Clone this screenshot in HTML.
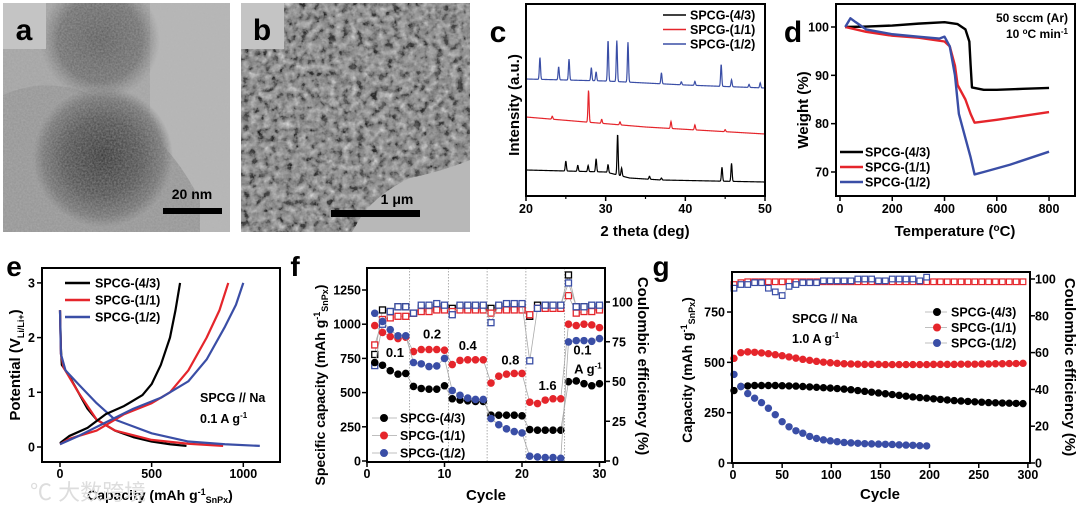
<!DOCTYPE html>
<html><head><meta charset="utf-8">
<style>
html,body{margin:0;padding:0;background:#fff;}
svg{display:block;font-family:"Liberation Sans","Noto Sans CJK SC",sans-serif;font-weight:bold;}
</style></head>
<body>
<svg id="fig" width="1080" height="506" viewBox="0 0 1080 506" xmlns="http://www.w3.org/2000/svg">
<defs>
<filter id="noiseA" x="0" y="0" width="100%" height="100%">
<feTurbulence type="fractalNoise" baseFrequency="0.55" numOctaves="2" seed="3" result="n"/>
<feColorMatrix in="n" type="matrix" values="0 0 0 0 0.5  0 0 0 0 0.5  0 0 0 0 0.5  0 0 0 0.55 0"/>
<feComposite in2="SourceGraphic" operator="in"/>
</filter>
<filter id="noiseB" x="0" y="0" width="100%" height="100%">
<feTurbulence type="fractalNoise" baseFrequency="0.14" numOctaves="3" seed="8" result="n"/>
<feColorMatrix in="n" type="matrix" values="1.5 0 0 0 -0.45  1.5 0 0 0 -0.45  1.5 0 0 0 -0.45  0 0 0 1 0"/>
</filter>
<radialGradient id="blobA" cx="0.5" cy="0.5" r="0.5">
<stop offset="0" stop-color="#2a2a2a"/><stop offset="0.55" stop-color="#4a4a4a"/><stop offset="0.85" stop-color="#6e6e6e"/><stop offset="1" stop-color="#6e6e6e" stop-opacity="0"/>
</radialGradient>
<radialGradient id="blobA2" cx="0.5" cy="0.5" r="0.5">
<stop offset="0" stop-color="#555"/><stop offset="0.7" stop-color="#6a6a6a"/><stop offset="1" stop-color="#777" stop-opacity="0"/>
</radialGradient>
<clipPath id="clipB"><rect x="241" y="3" width="229" height="229"/></clipPath>
<clipPath id="clipA"><rect x="3" y="3" width="227" height="229"/></clipPath>
</defs>

<g clip-path="url(#clipA)">
<rect x="3" y="3" width="227" height="229" fill="#a2a2a2"/>
<rect x="150" y="3" width="80" height="229" fill="#b4b4b4"/>
<path d="M3 95 Q60 70 120 110 Q170 140 200 200 L200 232 L3 232 Z" fill="#939393"/>
<circle cx="100" cy="40" r="60" fill="url(#blobA2)"/>
<circle cx="103" cy="157" r="70" fill="url(#blobA)"/>
<rect x="3" y="3" width="227" height="229" fill="#888" filter="url(#noiseA)"/>
</g>
<rect x="3" y="3" width="43" height="46" fill="#c4c4c4"/>
<text x="24" y="40" font-size="30" text-anchor="middle">a</text>
<text x="192" y="199" font-size="14" text-anchor="middle">20 nm</text>
<rect x="163" y="208" width="59" height="6" fill="#000"/>

<g clip-path="url(#clipB)">
<rect x="241" y="3" width="229" height="229" fill="#8a8a8a"/>
<rect x="241" y="3" width="229" height="229" fill="#888" filter="url(#noiseB)" opacity="0.95"/>
<path d="M470 160 Q440 172 410 178 Q380 192 362 215 L352 232 L470 232 Z" fill="#b8b8b8"/>
</g>
<rect x="241" y="3" width="43" height="46" fill="#c4c4c4"/>
<text x="262" y="40" font-size="30" text-anchor="middle">b</text>
<text x="397" y="204" font-size="14" text-anchor="middle">1 μm</text>
<rect x="331" y="210" width="89" height="7" fill="#000"/>

<g id="plots"></g>

<text x="30" y="500" font-size="22" fill="#ddd" font-weight="normal">℃ 大数跨境</text>
</svg>

<script>
const cSeriesNames = ["SPCG-(4/3)", "SPCG-(1/1)", "SPCG-(1/2)"];
const cBaseBlack = [[20, 26], [30, 24], [33, 18], [37, 16], [50, 14]];
const cBaseRed = [[20, 79], [35, 69], [50, 62]];
const cBaseBlue = [[20, 117], [30, 115], [40, 111], [50, 108]];
const cPeaksBlack = [[25, 10], [26.5, 6], [27.8, 6], [28.8, 13], [30.3, 8], [31.5, 41], [32, 8], [35.5, 3], [37, 2], [44.6, 14], [45.8, 18]];
const cPeaksRed = [[23.3, 3], [27.85, 32], [29.5, 4], [31.8, 3], [38.2, 7], [41.2, 5], [45, 2]];
const cPeaksBlue = [[21.75, 22], [24.1, 13], [25.4, 21], [28.2, 13], [28.8, 9], [30.3, 41], [31.4, 41], [32.8, 40], [37, 11], [39.5, 3], [41.2, 4], [44.5, 22], [45.8, 7], [48, 3], [49.4, 5]];
const cXTicks = [20, 30, 40, 50];

const dBlackT = [20, 100, 200, 300, 400, 450, 480, 495, 500, 505, 550, 600, 700, 800];
const dBlackW = [100, 100.1, 100.3, 100.7, 101, 100.6, 99.5, 97, 92, 87.5, 87, 87, 87.2, 87.4];
const dRedT = [20, 100, 200, 300, 400, 420, 440, 450, 480, 500, 515, 600, 700, 800];
const dRedW = [100, 99, 98.2, 97.8, 97, 96, 92, 88, 85, 82, 80.2, 80.8, 81.6, 82.4];
const dBlueT = [20, 40, 60, 100, 200, 300, 380, 400, 420, 440, 455, 480, 500, 515, 550, 650, 800];
const dBlueW = [100, 101.8, 101, 99.5, 98.5, 98, 97.6, 98, 96, 90, 82, 77, 73, 69.5, 70, 71.5, 74.2];
const dXTicks = [0, 200, 400, 600, 800];
const dYTicks = [70, 80, 90, 100];

const eBlackDisC = [0, 5, 10, 50, 100, 150, 200, 300, 400, 500, 600, 690];
const eBlackDisV = [2.5, 1.8, 1.5, 1.3, 1.0, 0.7, 0.5, 0.3, 0.18, 0.1, 0.05, 0.02];
const eBlackChC = [0, 50, 150, 250, 350, 450, 500, 550, 600, 630, 655];
const eBlackChV = [0.07, 0.2, 0.35, 0.6, 0.75, 0.95, 1.15, 1.5, 2.0, 2.5, 3.0];
const eRedDisC = [0, 5, 20, 100, 200, 300, 500, 700, 890];
const eRedDisV = [2.5, 1.7, 1.45, 1.0, 0.5, 0.3, 0.13, 0.06, 0.02];
const eRedChC = [0, 50, 200, 350, 500, 600, 700, 800, 870, 918];
const eRedChV = [0.05, 0.15, 0.3, 0.6, 0.8, 1.0, 1.4, 2.0, 2.5, 3.0];
const eBlueDisC = [0, 5, 30, 100, 200, 300, 500, 700, 900, 1090];
const eBlueDisV = [2.5, 1.7, 1.4, 1.15, 0.8, 0.5, 0.25, 0.1, 0.05, 0.02];
const eBlueChC = [0, 100, 250, 400, 550, 700, 800, 900, 960, 1000];
const eBlueChV = [0.05, 0.2, 0.45, 0.7, 0.9, 1.2, 1.6, 2.2, 2.6, 3.0];
const eXTicks = [0, 500, 1000];
const eYTicks = [0, 1, 2, 3];

const fCycles = [1,2,3,4,5,6,7,8,9,10,11,12,13,14,15,16,17,18,19,20,21,22,23,24,25,26,27,28,29,30];
const fBlackCap = [720,700,660,635,640,545,530,525,525,550,455,445,440,435,435,335,335,335,335,330,230,225,225,225,225,580,585,565,550,565];
const fRedCap = [990,940,910,895,905,800,815,815,815,810,705,735,740,740,740,570,620,635,640,640,430,420,445,455,455,1000,990,1000,995,975];
const fBlueCap = [1080,1020,960,915,915,720,710,690,695,750,515,480,460,450,450,310,265,235,215,205,35,30,25,25,20,870,880,880,875,895];
const fBlackCE = [67,95,94,97,97,93,96,96,97,97,96,97,97,97,97,96,97,97,97,97,91,98,98,98,98,117,97,97,97,97];
const fRedCE = [73,89,90,91,91,93,94,94,95,95,94,95,95,95,95,93,95,95,95,95,92,96,96,96,96,104,93,94,94,95];
const fBlueCE = [60,86,94,97,97,93,98,98,99,98,92,98,98,98,98,87,98,99,99,99,63,96,98,98,98,112,97,97,98,98];
const fRateLabels = ["0.1", "0.2", "0.4", "0.8", "1.6", "0.1"];
const fRateCycle = [3.6, 8.4, 13, 18.5, 23.3, 27.8];
const fRateCap = [760, 895, 810, 705, 520, 780];
const fSegBounds = [5.5, 10.5, 15.5, 20.5, 25.5];
const fXTicks = [0, 10, 20, 30];
const fYTicks = [0, 250, 500, 750, 1000, 1250];
const fRTicks = [0, 25, 50, 75, 100];

const gCycles = [1,8,15,22,29,36,43,50,57,64,71,78,85,92,99,106,113,120,127,134,141,148,155,162,169,176,183,190,197,204,211,218,225,232,239,246,253,260,267,274,281,288,295];
const gBlackCap = [360,380,383,385,385,385,385,384,383,382,380,378,376,374,372,370,367,364,360,356,352,348,344,340,336,332,328,325,322,319,316,313,310,308,306,304,302,300,299,298,297,296,295];
const gRedCap = [520,548,552,550,547,543,538,533,527,521,515,510,505,501,498,495,493,492,491,490,490,490,489,489,489,489,489,489,489,490,490,490,490,491,491,491,492,492,493,493,494,494,495];
const gBlueCap = [440,380,345,322,300,272,240,205,180,160,148,132,122,115,110,106,102,100,98,96,95,94,93,92,90,89,88,86,85];
const gRedCE = [97,98,98.5,98.5,98.5,98.5,98.5,98.5,98.5,98.5,98.5,98.5,98.5,98.5,98.5,98.5,98.5,98.5,98.5,98.5,98.5,98.5,98.5,98.5,98.5,98.5,98.5,98.5,98.5,98.5,98.5,98.5,98.5,98.5,98.5,98.5,98.5,98.5,98.5,98.5,98.5,98.5,98.5];
const gBlueCE = [95,97,97,98,98,95,93,91,96,97,98,98,98,99,99,99,99,99,100,100,100,99,99,100,100,100,100,99,101];
const gXTicks = [0, 50, 100, 150, 200, 250, 300];
const gYTicks = [0, 250, 500, 750];
const gRTicks = [0, 20, 40, 60, 80, 100];

const BLACK = "#000", RED = "#e5252b", BLUE = "#3a4ea6";
const NS = "http://www.w3.org/2000/svg";
const root = document.getElementById("plots");
const TICK = 12.5, LEG = 12.5;

function mk(tag, attrs, parent) {
  const e = document.createElementNS(NS, tag);
  for (const k in attrs) e.setAttribute(k, attrs[k]);
  (parent || root).appendChild(e);
  return e;
}
function txt(x, y, s, size, anchor, parent) {
  const t = mk("text", {x: x, y: y, "font-size": size, "text-anchor": anchor || "middle"}, parent);
  t.textContent = s;
  return t;
}
function pathD(xs, ys, fx, fy) {
  let d = "";
  for (let i = 0; i < xs.length; i++) d += (i ? "L" : "M") + fx(xs[i]).toFixed(2) + " " + fy(ys[i]).toFixed(2);
  return d;
}
function interp(pts, x) {
  for (let i = 0; i < pts.length - 1; i++) {
    if (x >= pts[i][0] && x <= pts[i + 1][0]) {
      const t = (x - pts[i][0]) / (pts[i + 1][0] - pts[i][0]);
      return pts[i][1] + t * (pts[i + 1][1] - pts[i][1]);
    }
  }
  return pts[pts.length - 1][1];
}
function frame(x0, y0, x1, y1, g) {
  return mk("rect", {x: x0, y: y0, width: x1 - x0, height: y1 - y0, fill: "none", stroke: "#000", "stroke-width": 2}, g);
}

(function () {
  const g = mk("g", {});
  
  
  const xc = t => 526 + (t - 20) * (765 - 526) / 30;
  const yc = v => 196 - v;
  const letter = txt(498, 42, "c", 30, "middle", g);
  
  
  const series = [[cBaseBlack, cPeaksBlack, BLACK], [cBaseRed, cPeaksRed, RED], [cBaseBlue, cPeaksBlue, BLUE]];
  series.forEach((s, si) => {
    const xs = [], ys = [];
    for (let t = 20; t <= 50.001; t += 0.04) {
      let v = interp(s[0], t);
      s[1].forEach(p => { v += p[1] * Math.exp(-Math.pow((t - p[0]) / 0.1, 2)); });
      xs.push(t); ys.push(v);
    }
    const p = mk("path", {d: pathD(xs, ys, xc, yc), fill: "none", stroke: s[2], "stroke-width": 1.2}, g);
    
    
  });
  frame(526, 4, 765, 196, g);
  cXTicks.forEach(t => {
    mk("line", {x1: xc(t), x2: xc(t), y1: 196, y2: 201, stroke: "#000", "stroke-width": 1.5}, g);
    const l = txt(xc(t), 213, String(t), TICK, "middle", g);
    
    
  });
  [25, 35, 45].forEach(t => mk("line", {x1: xc(t), x2: xc(t), y1: 196, y2: 199, stroke: "#000", "stroke-width": 1.2}, g));
  const xt = txt(645, 236, "2 theta (deg)", 15, "middle", g);
  
  
  const yt = txt(0, 0, "Intensity (a.u.)", 15, "middle", g);
  yt.setAttribute("transform", "translate(519,105) rotate(-90)");
  
  
  [BLACK, RED, BLUE].forEach((c, i) => {
    const y = 15 + i * 14.5;
    const ln = mk("line", {x1: 663, x2: 686, y1: y, y2: y, stroke: c, "stroke-width": 1.6}, g);
    
    
    const lt = txt(690, y + 4.5, cSeriesNames[i], LEG, "start", g);
    
    
  });
})();

(function () {
  const g = mk("g", {});
  
  
  const xd = T => 840 + T * 0.2613;
  const yd = w => 27 + (100 - w) * 4.833;
  const letter = txt(793, 42, "d", 30, "middle", g);
  
  
  [[dBlackT, dBlackW, BLACK, "4-3"], [dRedT, dRedW, RED, "1-1"], [dBlueT, dBlueW, BLUE, "1-2"]].forEach(s => {
    const p = mk("path", {d: pathD(s[0], s[1], xd, yd), fill: "none", stroke: s[2], "stroke-width": 2.4, "stroke-linejoin": "round"}, g);
    
    
  });
  frame(836, 4, 1075, 196, g);
  dXTicks.forEach(t => {
    mk("line", {x1: xd(t), x2: xd(t), y1: 196, y2: 201, stroke: "#000", "stroke-width": 1.5}, g);
    const l = txt(xd(t), 213, String(t), TICK, "middle", g);
    
    
  });
  dYTicks.forEach(t => {
    mk("line", {x1: 831, x2: 836, y1: yd(t), y2: yd(t), stroke: "#000", "stroke-width": 1.5}, g);
    const l = txt(829, yd(t) + 4.5, String(t), TICK, "end", g);
    
    
  });
  const xt = txt(955, 236, "", 15, "middle", g);
  xt.innerHTML = 'Temperature (<tspan dy="-5" font-size="10">o</tspan><tspan dy="5">C)</tspan>';
  
  
  const yt = txt(0, 0, "Weight (%)", 15, "middle", g);
  yt.setAttribute("transform", "translate(808,110) rotate(-90)");
  
  
  const n1 = txt(1068, 22, "50 sccm (Ar)", 12, "end", g);
  
  
  const n2 = txt(1068, 38, "", 12, "end", g);
  n2.innerHTML = '10 <tspan dy="-4" font-size="8">o</tspan><tspan dy="4">C min</tspan><tspan dy="-4" font-size="8">-1</tspan>';
  
  
  [BLACK, RED, BLUE].forEach((c, i) => {
    const y = 152 + i * 15;
    const ln = mk("line", {x1: 840, x2: 863, y1: y, y2: y, stroke: c, "stroke-width": 2.6}, g);
    
    
    const lt = txt(865, y + 4.5, cSeriesNames[i], LEG, "start", g);
    
    
  });
})();

(function () {
  const g = mk("g", {});
  
  
  const xe = c => 60 + c * 0.1833;
  const ye = v => 447 - v * 54.7;
  const letter = txt(14, 276, "e", 28, "middle", g);
  
  
  const curves = [[eBlackDisC, eBlackDisV, BLACK, "discharge-4-3"], [eRedDisC, eRedDisV, RED, "discharge-1-1"], [eBlueDisC, eBlueDisV, BLUE, "discharge-1-2"],
                  [eBlackChC, eBlackChV, BLACK, "charge-4-3"], [eRedChC, eRedChV, RED, "charge-1-1"], [eBlueChC, eBlueChV, BLUE, "charge-1-2"]];
  curves.forEach(s => {
    const p = mk("path", {d: pathD(s[0], s[1], xe, ye), fill: "none", stroke: s[2], "stroke-width": 2.2, "stroke-linejoin": "round"}, g);
    
    
  });
  frame(42, 268, 280, 462, g);
  eXTicks.forEach(t => {
    mk("line", {x1: xe(t), x2: xe(t), y1: 462, y2: 467, stroke: "#000", "stroke-width": 1.5}, g);
    const l = txt(xe(t), 478, String(t), TICK, "middle", g);
    
    
  });
  eYTicks.forEach(t => {
    mk("line", {x1: 37, x2: 42, y1: ye(t), y2: ye(t), stroke: "#000", "stroke-width": 1.5}, g);
    const l = txt(35, ye(t) + 4.5, String(t), TICK, "end", g);
    
    
  });
  const xt = txt(160, 500, "", 14, "middle", g);
  xt.innerHTML = 'Capacity (mAh g<tspan dy="-5" font-size="9">-1</tspan><tspan dy="8" font-size="9">SnPx</tspan><tspan dy="-3">)</tspan>';
  
  
  const yt = txt(0, 0, "", 15, "middle", g);
  yt.innerHTML = 'Potential (V<tspan dy="4" font-size="9">Li/Li+</tspan><tspan dy="-4">)</tspan>';
  yt.setAttribute("transform", "translate(20,365) rotate(-90)");
  
  
  [BLACK, RED, BLUE].forEach((c, i) => {
    const y = 283 + i * 17;
    const ln = mk("line", {x1: 65, x2: 90, y1: y, y2: y, stroke: c, "stroke-width": 2.6}, g);
    
    
    const lt = txt(95, y + 4.5, cSeriesNames[i], LEG, "start", g);
    
    
  });
  const n1 = txt(200, 402, "SPCG // Na", 12.5, "start", g);
  
  
  const n2 = txt(200, 423, "", 12.5, "start", g);
  n2.innerHTML = '0.1 A g<tspan dy="-5" font-size="8">-1</tspan>';
  
  
})();

(function () {
  const g = mk("g", {});
  
  
  const xf = n => 367 + n * 7.75;
  const yf = c => 461 - c * 0.1368;
  const yr = p => 461 - p * 1.59;
  const letter = txt(295, 276, "f", 28, "middle", g);
  
  
  fSegBounds.forEach(b => {
    const l = mk("line", {x1: xf(b), x2: xf(b), y1: 268, y2: 462, stroke: "#999", "stroke-width": 0.8, "stroke-dasharray": "1.5 1.5"}, g);
    
    
  });
  [[fBlackCE, BLACK, "4-3"], [fRedCE, RED, "1-1"], [fBlueCE, BLUE, "1-2"]].forEach(s => {
    const p = mk("path", {d: pathD(fCycles, s[0], xf, yr), fill: "none", stroke: "#aaa", "stroke-width": 0.8}, g);
    
    
    fCycles.forEach((n, i) => {
      const r = mk("rect", {x: xf(n) - 3, y: yr(s[0][i]) - 3, width: 6, height: 6, fill: "#fff", stroke: s[1], "stroke-width": 1.3}, g);
      
      
    });
  });
  [[fBlackCap, BLACK, "4-3"], [fRedCap, RED, "1-1"], [fBlueCap, BLUE, "1-2"]].forEach(s => {
    const p = mk("path", {d: pathD(fCycles, s[0], xf, yf), fill: "none", stroke: "#aaa", "stroke-width": 0.8}, g);
    
    
    fCycles.forEach((n, i) => {
      const c = mk("circle", {cx: xf(n), cy: yf(s[0][i]), r: 3.8, fill: s[1]}, g);
      
      
    });
  });
  fRateLabels.forEach((s, i) => {
    const t = txt(xf(fRateCycle[i]), yf(fRateCap[i]), s, 13, "middle", g);
    
    
  });
  const ag = txt(xf(28.5), yf(640), "", 13, "middle", g);
  ag.innerHTML = 'A g<tspan dy="-5" font-size="8">-1</tspan>';
  
  
  frame(367, 268, 605, 462, g);
  fXTicks.forEach(t => {
    mk("line", {x1: xf(t), x2: xf(t), y1: 462, y2: 467, stroke: "#000", "stroke-width": 1.5}, g);
    const l = txt(xf(t), 478, String(t), TICK, "middle", g);
    
    
  });
  fYTicks.forEach(t => {
    mk("line", {x1: 362, x2: 367, y1: yf(t), y2: yf(t), stroke: "#000", "stroke-width": 1.5}, g);
    const l = txt(361, yf(t) + 4.5, String(t), TICK, "end", g);
    
    
  });
  fRTicks.forEach(t => {
    mk("line", {x1: 605, x2: 610, y1: yr(t), y2: yr(t), stroke: "#000", "stroke-width": 1.5}, g);
    const l = txt(612, yr(t) + 4.5, String(t), TICK, "start", g);
    
    
  });
  const xt = txt(486, 500, "Cycle", 15, "middle", g);
  
  
  const yt = txt(0, 0, "", 14, "middle", g);
  yt.innerHTML = 'Specific capacity (mAh g<tspan dy="-5" font-size="9">-1</tspan><tspan dy="8" font-size="9">SnPx</tspan><tspan dy="-3">)</tspan>';
  yt.setAttribute("transform", "translate(325,385) rotate(-90)");
  
  
  const rt = txt(0, 0, "Coulombic efficiency (%)", 15, "middle", g);
  rt.setAttribute("transform", "translate(638,366) rotate(90)");
  
  
  [BLACK, RED, BLUE].forEach((c, i) => {
    const y = 418 + i * 17.5;
    const ln = mk("line", {x1: 372, x2: 397, y1: y, y2: y, stroke: "#aaa", "stroke-width": 0.8}, g);
    
    
    const m = mk("circle", {cx: 384, cy: y, r: 4, fill: c}, g);
    
    
    const lt = txt(400, y + 4.5, cSeriesNames[i], LEG, "start", g);
    
    
  });
})();

(function () {
  const g = mk("g", {});
  
  
  const xg = n => 733 + n * 0.983;
  const yg = c => 463 - c * 0.2013;
  const yr = p => 463 - p * 1.84;
  const letter = txt(661, 276, "g", 28, "middle", g);
  
  
  [[gRedCE, RED, "1-1"], [gBlueCE, BLUE, "1-2"]].forEach(s => {
    const p = mk("path", {d: pathD(gCycles.slice(0, s[0].length), s[0], xg, yr), fill: "none", stroke: "#aaa", "stroke-width": 0.6}, g);
    
    
    s[0].forEach((v, i) => {
      const r = mk("rect", {x: xg(gCycles[i]) - 2.8, y: yr(v) - 2.8, width: 5.6, height: 5.6, fill: "#fff", stroke: s[1], "stroke-width": 1.2}, g);
      
      
    });
  });
  [[gBlackCap, BLACK, "4-3"], [gRedCap, RED, "1-1"], [gBlueCap, BLUE, "1-2"]].forEach(s => {
    s[0].forEach((v, i) => {
      const c = mk("circle", {cx: xg(gCycles[i]), cy: yg(v), r: 3.7, fill: s[1]}, g);
      
      
    });
  });
  frame(732, 272, 1030, 463, g);
  gXTicks.forEach(t => {
    mk("line", {x1: xg(t), x2: xg(t), y1: 463, y2: 468, stroke: "#000", "stroke-width": 1.5}, g);
    const l = txt(xg(t), 479, String(t), TICK, "middle", g);
    
    
  });
  gYTicks.forEach(t => {
    mk("line", {x1: 727, x2: 732, y1: yg(t), y2: yg(t), stroke: "#000", "stroke-width": 1.5}, g);
    const l = txt(725, yg(t) + 4.5, String(t), TICK, "end", g);
    
    
  });
  gRTicks.forEach(t => {
    mk("line", {x1: 1030, x2: 1035, y1: yr(t), y2: yr(t), stroke: "#000", "stroke-width": 1.5}, g);
    const l = txt(1035, yr(t) + 4.5, String(t), TICK, "start", g);
    
    
  });
  const xt = txt(880, 499, "Cycle", 15, "middle", g);
  
  
  const yt = txt(0, 0, "", 14, "middle", g);
  yt.innerHTML = 'Capacity (mAh g<tspan dy="-5" font-size="9">-1</tspan><tspan dy="8" font-size="9">SnPx</tspan><tspan dy="-3">)</tspan>';
  yt.setAttribute("transform", "translate(692,370) rotate(-90)");
  
  
  const rt = txt(0, 0, "Coulombic efficiency (%)", 15, "middle", g);
  rt.setAttribute("transform", "translate(1065,367) rotate(90)");
  
  
  const n1 = txt(792, 323, "SPCG // Na", 12.5, "start", g);
  
  
  const n2 = txt(792, 343, "", 12.5, "start", g);
  n2.innerHTML = '1.0 A g<tspan dy="-5" font-size="8">-1</tspan>';
  
  
  [BLACK, RED, BLUE].forEach((c, i) => {
    const y = 312 + i * 15.5;
    const ln = mk("line", {x1: 925, x2: 947, y1: y, y2: y, stroke: "#aaa", "stroke-width": 0.8}, g);
    
    
    const m = mk("circle", {cx: 937, cy: y, r: 4, fill: c}, g);
    
    
    const lt = txt(951, y + 4.5, cSeriesNames[i], LEG, "start", g);
    
    
  });
})();
</script>
</body></html>
